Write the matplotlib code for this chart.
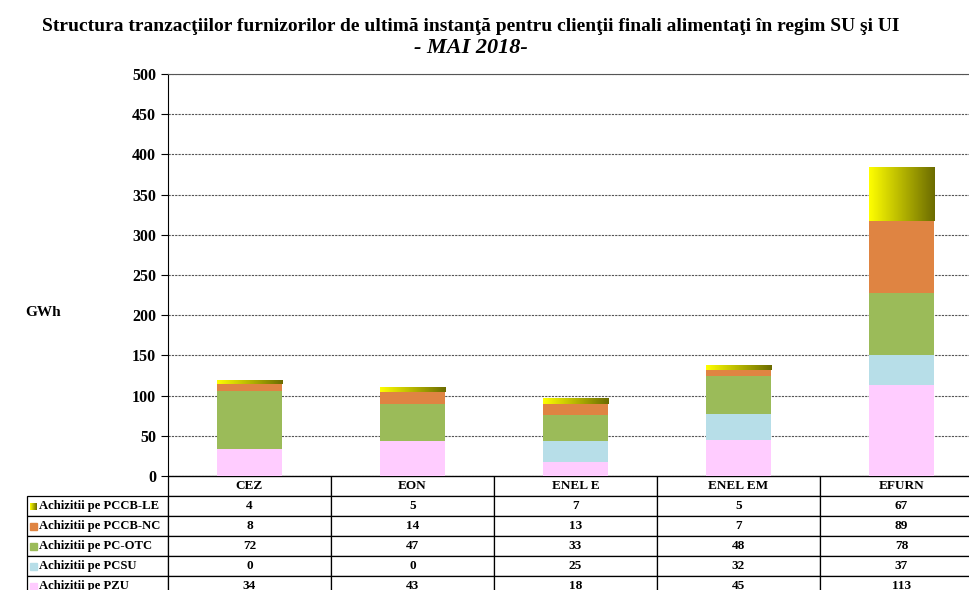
import matplotlib.pyplot as plt
import numpy as np
from matplotlib.colors import LinearSegmentedColormap

plt.rcParams['font.family'] = ['Liberation Serif', 'DejaVu Serif']
plt.rcParams['font.weight'] = 'bold'

furnizori = ["CEZ", "EON", "ENEL E", "ENEL EM", "EFURN"]
serii = ["Achizitii pe PCCB-LE", "Achizitii pe PCCB-NC", "Achizitii pe PC-OTC",
         "Achizitii pe PCSU", "Achizitii pe PZU"]
pccb_le = [4, 5, 7, 5, 67]
pccb_nc = [8, 14, 13, 7, 89]
pc_otc = [72, 47, 33, 48, 78]
pcsu = [0, 0, 25, 32, 37]
pzu = [34, 43, 18, 45, 113]

culori = {"PZU": "#FFCCFF", "PCSU": "#B7DEE8", "OTC": "#9BBB59", "NC": "#DF8442"}
gradient = LinearSegmentedColormap.from_list("le", ["#FFFF00", "#6B6B00"])

AX_W = 815  # axes width in px (runs past the right edge, as in the original)
AX_H = 402
fig = plt.figure(figsize=(9.7, 5.9), dpi=100)
ax = fig.add_axes([168 / 970, 1 - 476 / 590, AX_W / 970, AX_H / 590])

x = np.arange(len(furnizori))
w = 0.40
jos = np.zeros(len(furnizori))
ax.bar(x, pzu, w, bottom=jos, color=culori["PZU"], zorder=3)
jos += pzu
ax.bar(x, pcsu, w, bottom=jos, color=culori["PCSU"], zorder=3)
jos += pcsu
ax.bar(x, pc_otc, w, bottom=jos, color=culori["OTC"], zorder=3)
jos += pc_otc
ax.bar(x, pccb_nc, w, bottom=jos, color=culori["NC"], zorder=3)
jos += pccb_nc
top_bars = ax.bar(x, pccb_le, w, bottom=jos, color="none", zorder=3)

# gradient fill for the top segment
grad = np.linspace(0, 1, 256).reshape(1, -1)
for p in top_bars.patches:
    x0, y0 = p.get_x(), p.get_y()
    ax.imshow(grad, cmap=gradient, aspect='auto', zorder=3,
              extent=(x0, x0 + p.get_width(), y0, y0 + p.get_height()))

ax.set_yticks(np.arange(0, 501, 50))
ax.tick_params(axis='y', labelsize=11.5, direction='out', length=5)
ax.set_xticks([])
ax.yaxis.grid(True, color='#555555', linestyle=(0, (2, 1)), linewidth=0.8, zorder=0)
ax.spines["right"].set_visible(False)
ax.spines["top"].set_color('#555555')
ax.set_ylabel("GWh", rotation=0, fontsize=11, fontweight='bold')
ax.yaxis.set_label_coords(-125 / AX_W, 0.39)

fig.text(0.485, 0.955, "Structura tranzacţiilor furnizorilor de ultimă instanţă pentru clienţii finali alimentaţi în regim SU şi UI",
         ha='center', va='center', fontsize=14, fontweight='bold')
fig.text(0.485, 0.918, "- MAI 2018-", ha='center', va='center', fontsize=16,
         fontweight='bold', style='italic')

# data table under the chart
valori = [pccb_le, pccb_nc, pc_otc, pcsu, pzu]
celule = [[str(v) for v in r] for r in valori]
eticheta_w = 141 / AX_W
tabel = ax.table(cellText=celule, colLabels=furnizori, cellLoc='center',
                 bbox=[0, -120 / AX_H, 1, 120 / AX_H])
h = tabel[1, 0].get_height()
for i, s in enumerate(serii):
    tabel.add_cell(i + 1, -1, width=eticheta_w, height=h, text=s, loc='left')
tabel.auto_set_font_size(False)
tabel.set_fontsize(9.5)
for (r, c), cell in tabel.get_celld().items():
    cell.set_linewidth(0.9)
    cell.get_text().set_fontweight('bold')
    if c == -1:
        cell.PAD = 0.085
        cell.get_text().set_fontsize(9.1)

# small colour keys in the row labels
chei = ["LE", culori["NC"], culori["OTC"], culori["PCSU"], culori["PZU"]]
xk = -eticheta_w + 3 / AX_W
kw, kh = 7 / AX_W, 7 / AX_H
for i, k in enumerate(chei):
    yc = -20 / AX_H - (i + 0.5) * 20 / AX_H
    if k == "LE":
        img = ax.imshow(grad, cmap=gradient, aspect='auto', clip_on=False, zorder=5,
                        extent=(xk, xk + kw, yc - kh / 2, yc + kh / 2))
        img.set_transform(ax.transAxes)
    else:
        ax.add_patch(plt.Rectangle((xk, yc - kh / 2), kw, kh, transform=ax.transAxes,
                                   color=k, clip_on=False, zorder=5))

ax.set_xlim(-0.5, len(furnizori) - 0.5)
ax.set_ylim(0, 500)

fig.savefig("out.png", dpi=100)
